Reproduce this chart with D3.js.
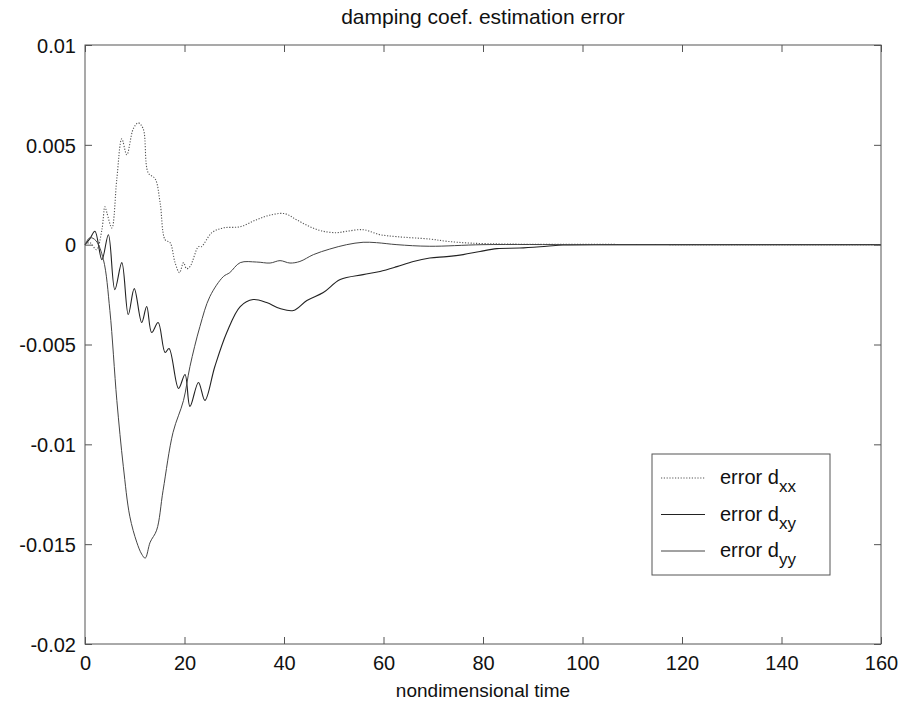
<!DOCTYPE html>
<html>
<head>
<meta charset="utf-8">
<script src="https://cdn.jsdelivr.net/npm/d3@7"></script>
<style>
  body { margin: 0; background: #fff; }
  text { font-family: "Liberation Sans", Arial, sans-serif; fill: #111; }
</style>
</head>
<body>
<div id="chart"></div>
<script>
/**
 * data
 */
const xTicks = [0, 20, 40, 60, 80, 100, 120, 140, 160];
const yTicks = [0.01, 0.005, 0, -0.005, -0.01, -0.015, -0.02];
const yTickLabels = ["0.01", "0.005", "0", "-0.005", "-0.01", "-0.015", "-0.02"];

// error d_xx (dotted)
const tXX = [0, 1, 2.3, 3.4, 4.0, 4.4, 5.4, 6.4, 7.4, 8.4, 9.7, 10.7, 11.7, 12.7, 14.1, 15.1, 16.1, 17.1,
  18.1, 19.0, 19.8, 20.4, 21.1, 22.8, 23.4, 25.5, 27.8, 31.2, 34.5, 37.5, 40.2, 42.5, 45.2, 47.9,
  50.6, 52.6, 55.9, 59.3, 62.7, 69.3, 72.7, 77.4, 85, 95, 110, 125, 140, 160];
const vXX = [0, 0.0001, -0.00025, 0.00075, 0.0019, 0.0016, 0.00084, 0.0033, 0.0053, 0.0045, 0.0058, 0.0061, 0.0058, 0.0036,
  0.0033, 0.0021, 0.00025, 0.0001, -0.0009, -0.0014, -0.0009, -0.0012, -0.0011, -0.0001, -0.0001, 0.0006, 0.00084, 0.0009,
  0.00125, 0.0015, 0.00155, 0.00125, 0.0009, 0.00067, 0.0006, 0.00067, 0.00075, 0.0005, 0.0004, 0.00028, 0.00017, 0.00008,
  0.00003, 0.00002, 0.00001, 0, 0, 0];

// error d_xy (solid, rippled)
const tXY = [0, 1, 2, 3.4, 4.7, 6.0, 7.4, 8.7, 9.9, 11.4, 12.4, 13.4, 14.7, 16.1, 16.9, 18.8, 20.1, 21.1, 22.8,
  24.1, 26.1, 28.5, 31.2, 33.8, 36.5, 39.2, 41.9, 44.6, 47.9, 51.3, 55.9, 59.3, 62.7, 66, 69.3, 72.7, 76,
  79.4, 82.8, 87.4, 92.8, 96.1, 105, 120, 140, 160];
const vXY = [0, 0.0003, 0.00067, -0.00075, 0.0005, -0.00225, -0.0009, -0.0035, -0.0022, -0.0039, -0.0031, -0.0044,
  -0.0039, -0.0054, -0.0052, -0.0072, -0.0065, -0.0081, -0.0069, -0.0078, -0.0061, -0.0044, -0.0031, -0.00275,
  -0.0029, -0.0032, -0.0033, -0.0028, -0.0024, -0.00175, -0.0015, -0.00134, -0.0011, -0.00084, -0.00067, -0.0006,
  -0.0005, -0.00034, -0.0002, -0.00017, -0.00008, -0.00002, 0, 0, 0, 0];

// error d_yy (solid, deep dip)
const tYY = [0, 1, 2.2, 3.7, 5.0, 6.4, 7.7, 9.0, 10.4, 11.4, 12.1, 13.1, 14.4, 15.7, 17.7, 19.8, 21.1, 23.1,
  25.1, 27.8, 29.1, 31.2, 34.5, 37.2, 39.2, 41.2, 43.2, 45.9, 49.2, 52.6, 55.9, 58.6, 62.7, 69.3, 80, 100, 130, 160];
const vYY = [0, 0.00035, 0.0002, -0.00075, -0.0033, -0.0078, -0.0111, -0.0136, -0.0149, -0.0155, -0.0157, -0.0149,
  -0.0143, -0.0123, -0.0094, -0.0078, -0.0061, -0.0041, -0.0026, -0.0016, -0.0014, -0.0009, -0.00087, -0.00092,
  -0.0008, -0.00092, -0.00084, -0.0005, -0.00022, 0, 0.00012, 0.0001, 0, -0.00008, 0, 0, 0, 0];

const series = [
  { name: "xx", t: tXX, v: vXX, color: "#555", dash: "1.2,1.6", width: 1.1 },
  { name: "xy", t: tXY, v: vXY, color: "#222", dash: null, width: 1.1 },
  { name: "yy", t: tYY, v: vYY, color: "#444", dash: null, width: 1.0 }
];

/**
 * layout
 */
const WIDTH = 906, HEIGHT = 708;
const LEFT = 85, RIGHT = 881, TOP = 45, BOTTOM = 644;
const TICK = 7;

const svg = d3.select("#chart").append("svg")
  .attr("width", WIDTH)
  .attr("height", HEIGHT);

const x = d3.scaleLinear().domain([0, 160]).range([LEFT, RIGHT]);
const y = d3.scaleLinear().domain([-0.02, 0.01]).range([BOTTOM, TOP]);

// curves first, box drawn on top
const line = d3.line()
  .x(d => x(d[0]))
  .y(d => y(d[1]))
  .curve(d3.curveCatmullRom.alpha(0.5));

for (let s of series) {
  svg.append("path")
    .datum(s.t.map((t, i) => [t, s.v[i]]))
    .attr("d", line)
    .attr("fill", "none")
    .attr("stroke", s.color)
    .attr("stroke-width", s.width)
    .attr("stroke-dasharray", s.dash);
}

// axes (MATLAB-style box with inward ticks on all sides)
const axisColor = "#555";
svg.append("rect")
  .attr("x", LEFT).attr("y", TOP)
  .attr("width", RIGHT - LEFT).attr("height", BOTTOM - TOP)
  .attr("fill", "none").attr("stroke", axisColor).attr("stroke-width", 1);

const bottomAxis = d3.axisBottom(x).tickValues(xTicks).tickSizeInner(-TICK).tickSizeOuter(0).tickFormat(d3.format("d"));
const gx = svg.append("g").attr("transform", `translate(0,${BOTTOM})`).call(bottomAxis);
gx.select(".domain").remove();
gx.selectAll(".tick line").attr("stroke", axisColor);
gx.selectAll(".tick text").attr("dy", null).attr("y", 26).attr("font-size", 20)
  .attr("font-family", "Liberation Sans, Arial, sans-serif").attr("fill", "#111");

const topAxis = d3.axisTop(x).tickValues(xTicks).tickSizeInner(-TICK).tickSizeOuter(0).tickFormat("");
const gxt = svg.append("g").attr("transform", `translate(0,${TOP})`).call(topAxis);
gxt.select(".domain").remove();
gxt.selectAll(".tick line").attr("stroke", axisColor);

const leftAxis = d3.axisLeft(y).tickValues(yTicks).tickSizeInner(-TICK).tickSizeOuter(0)
  .tickFormat((d, i) => yTickLabels[i]);
const gy = svg.append("g").attr("transform", `translate(${LEFT},0)`).call(leftAxis);
gy.select(".domain").remove();
gy.selectAll(".tick line").attr("stroke", axisColor);
gy.selectAll(".tick text").attr("x", -9).attr("dy", "0.36em").attr("font-size", 20)
  .attr("font-family", "Liberation Sans, Arial, sans-serif").attr("fill", "#111");

const rightAxis = d3.axisRight(y).tickValues(yTicks).tickSizeInner(-TICK).tickSizeOuter(0).tickFormat("");
const gyr = svg.append("g").attr("transform", `translate(${RIGHT},0)`).call(rightAxis);
gyr.select(".domain").remove();
gyr.selectAll(".tick line").attr("stroke", axisColor);

// title and label
svg.append("text")
  .attr("x", (LEFT + RIGHT) / 2).attr("y", 24)
  .attr("text-anchor", "middle").attr("font-size", 21)
  .text("damping coef. estimation error");

svg.append("text")
  .attr("x", (LEFT + RIGHT) / 2).attr("y", 697)
  .attr("text-anchor", "middle").attr("font-size", 19)
  .text("nondimensional time");

// legend
const legX = 652, legY = 454, legW = 178, legH = 121;
const leg = svg.append("g");
leg.append("rect")
  .attr("x", legX).attr("y", legY).attr("width", legW).attr("height", legH)
  .attr("fill", "#fff").attr("stroke", axisColor).attr("stroke-width", 1);

series.forEach((s, i) => {
  let rowY = 478 + i * 36.5;
  leg.append("line")
    .attr("x1", 661).attr("x2", 705)
    .attr("y1", rowY).attr("y2", rowY)
    .attr("stroke", s.color).attr("stroke-width", s.width)
    .attr("stroke-dasharray", s.dash);
  let txt = leg.append("text")
    .attr("x", 720).attr("y", rowY + 6)
    .attr("font-size", 20);
  txt.append("tspan").text("error d");
  txt.append("tspan").attr("dy", 8).attr("font-size", 17).text(s.name);
});
</script>
</body>
</html>
